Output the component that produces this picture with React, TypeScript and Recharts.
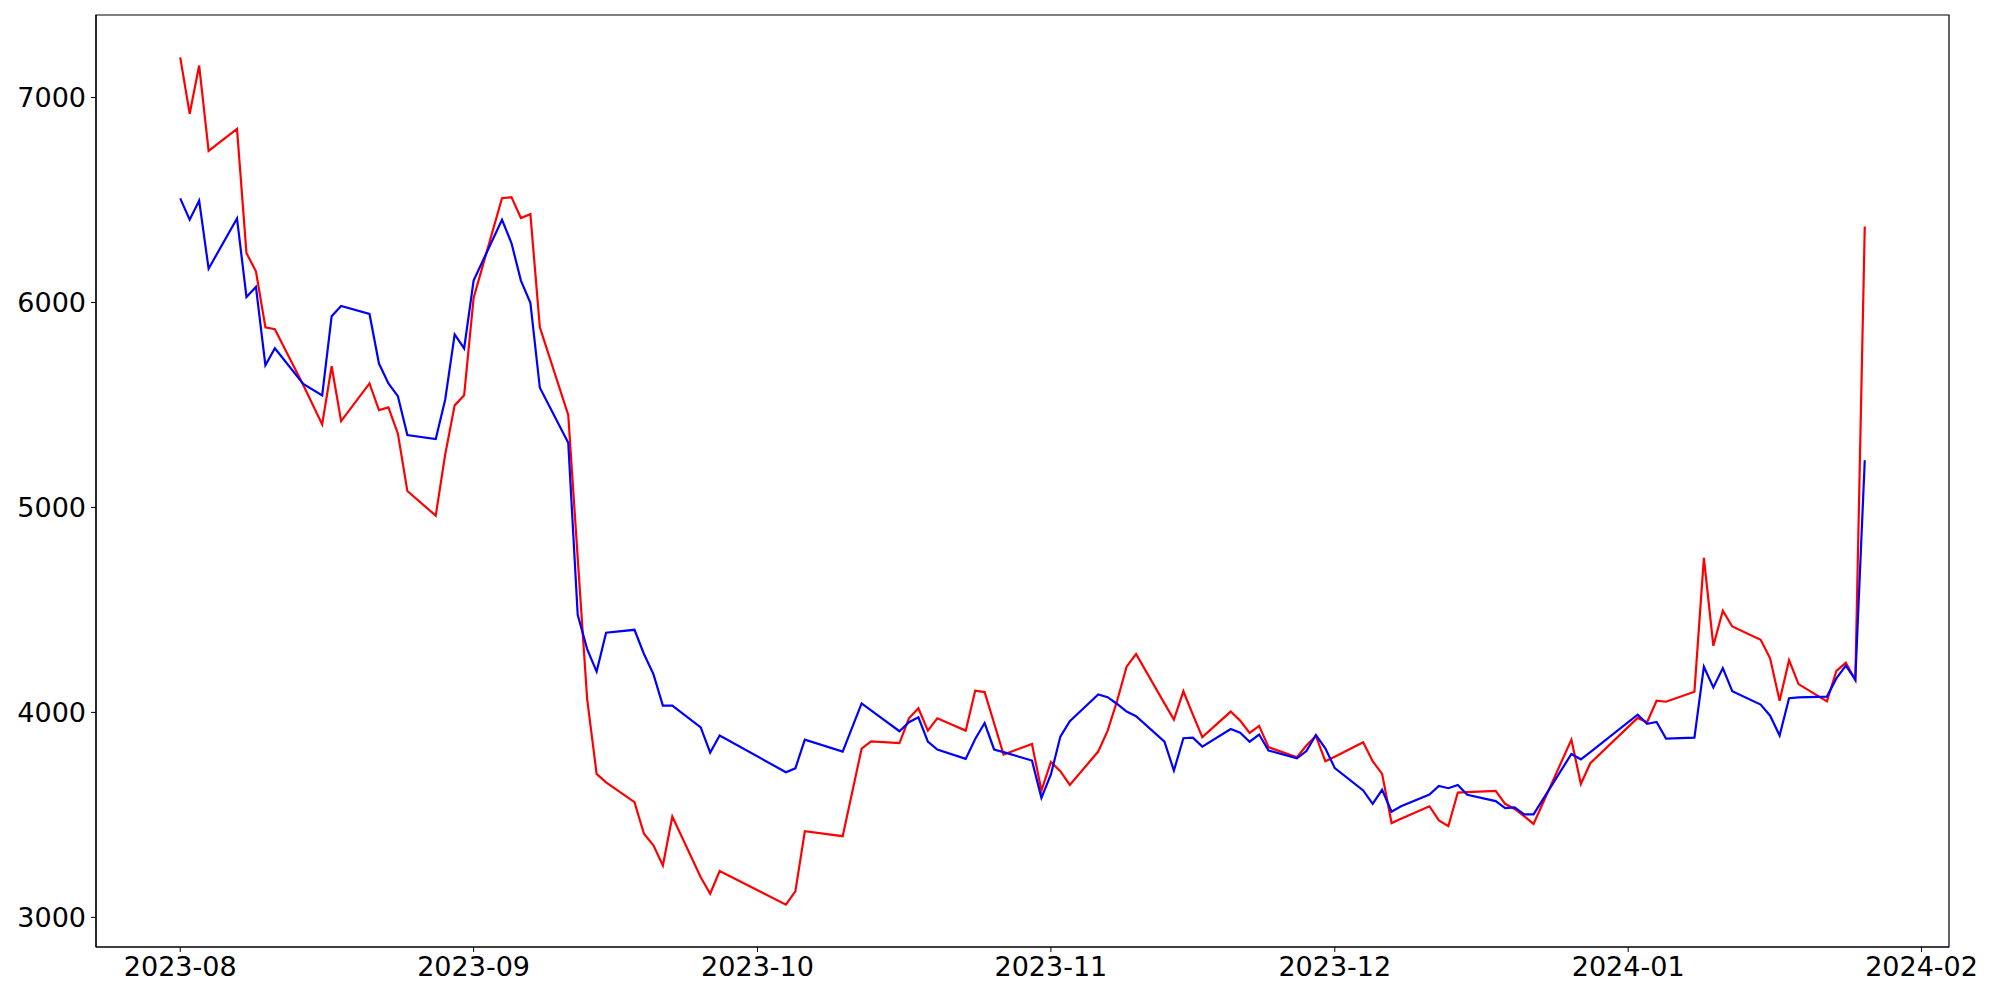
import React from "react";
import { LineChart, Line, XAxis, YAxis, ReferenceArea } from "recharts";

const dates: string[] = [
  "2023-08-01","2023-08-02","2023-08-03","2023-08-04","2023-08-07","2023-08-08","2023-08-09","2023-08-10","2023-08-11","2023-08-14","2023-08-16","2023-08-17","2023-08-18","2023-08-21","2023-08-22","2023-08-23","2023-08-24","2023-08-25","2023-08-28","2023-08-29","2023-08-30","2023-08-31",
  "2023-09-01","2023-09-04","2023-09-05","2023-09-06","2023-09-07","2023-09-08","2023-09-11","2023-09-12","2023-09-13","2023-09-14","2023-09-15","2023-09-18","2023-09-19","2023-09-20","2023-09-21","2023-09-22","2023-09-25","2023-09-26","2023-09-27",
  "2023-10-04","2023-10-05","2023-10-06","2023-10-10","2023-10-12","2023-10-13","2023-10-16","2023-10-17","2023-10-18","2023-10-19","2023-10-20","2023-10-23","2023-10-24","2023-10-25","2023-10-26","2023-10-27","2023-10-30","2023-10-31",
  "2023-11-01","2023-11-02","2023-11-03","2023-11-06","2023-11-07","2023-11-08","2023-11-09","2023-11-10","2023-11-13","2023-11-14","2023-11-15","2023-11-16","2023-11-17","2023-11-20","2023-11-21","2023-11-22","2023-11-23","2023-11-24","2023-11-27","2023-11-28","2023-11-29","2023-11-30",
  "2023-12-01","2023-12-04","2023-12-05","2023-12-06","2023-12-07","2023-12-08","2023-12-11","2023-12-12","2023-12-13","2023-12-14","2023-12-15","2023-12-18","2023-12-19","2023-12-20","2023-12-21","2023-12-22","2023-12-26","2023-12-27","2023-12-28",
  "2024-01-02","2024-01-03","2024-01-04","2024-01-05","2024-01-08","2024-01-09","2024-01-10","2024-01-11","2024-01-12","2024-01-15","2024-01-16","2024-01-17","2024-01-18","2024-01-19","2024-01-22","2024-01-23","2024-01-24","2024-01-25","2024-01-26",
];

const redSeries: number[] = [
  7196, 6921, 7156, 6740, 6847, 6241, 6152, 5879, 5870, 5597, 5405, 5689, 5421, 5605, 5475, 5488, 5360, 5080, 4960, 5259, 5498, 5547,
  6022, 6509, 6514, 6412, 6431, 5879, 5451, 4754, 4065, 3700, 3659, 3562, 3408, 3351, 3253, 3492, 3196, 3115, 3226,
  3062, 3127, 3420, 3396, 3823, 3858, 3850, 3971, 4020, 3911, 3971, 3911, 4106, 4099, 3947, 3794, 3846, 3619,
  3758, 3713, 3646, 3809, 3911, 4057, 4223, 4285, 4044, 3965, 4103, 3989, 3879, 4004, 3960, 3900, 3934, 3830, 3781, 3838, 3885, 3762,
  3784, 3854, 3762, 3700, 3460, 3481, 3542, 3473, 3445, 3609, 3611, 3617, 3554, 3529, 3494, 3456, 3867, 3651, 3752,
  3973, 3952, 4057, 4052, 4101, 4754, 4325, 4496, 4419, 4354, 4264, 4057, 4255, 4138, 4054, 4203, 4242, 4158, 6371,
];

const blueSeries: number[] = [
  6508, 6404, 6497, 6165, 6410, 6027, 6076, 5694, 5777, 5603, 5547, 5933, 5983, 5944, 5702, 5605, 5543, 5353, 5334, 5527, 5844, 5776,
  6107, 6404, 6290, 6107, 5998, 5584, 5316, 4476, 4309, 4199, 4389, 4403, 4285, 4187, 4033, 4033, 3927, 3804, 3887,
  3708, 3727, 3867, 3809, 4044, 4010, 3908, 3952, 3976, 3857, 3819, 3773, 3870, 3948, 3819, 3806, 3765, 3583,
  3697, 3882, 3957, 4087, 4074, 4041, 4004, 3981, 3857, 3716, 3874, 3877, 3833, 3919, 3901, 3857, 3892, 3814, 3776, 3811, 3890, 3825,
  3728, 3619, 3554, 3622, 3516, 3542, 3599, 3641, 3630, 3646, 3598, 3567, 3533, 3537, 3502, 3502, 3797, 3771, 3806,
  3989, 3944, 3953, 3872, 3877, 4223, 4122, 4216, 4103, 4038, 3984, 3887, 4069, 4073, 4077, 4166, 4228, 4160, 5230,
];

const xTickLabels: string[] = ["2023-08", "2023-09", "2023-10", "2023-11", "2023-12", "2024-01", "2024-02"];
const yTicks: number[] = [3000, 4000, 5000, 6000, 7000];

const toTs = (s: string) => {
  const [y, m, d] = s.split("-").map(Number);
  return Date.UTC(y, m - 1, d || 1);
};

const data = dates.map((d, i) => ({ t: toTs(d), red: redSeries[i], blue: blueSeries[i] }));

const tMin = data[0].t;
const tMax = data[data.length - 1].t;
const tPad = (tMax - tMin) * 0.05;
const xDomain: [number, number] = [tMin - tPad, tMax + tPad];

const allVals = [...redSeries, ...blueSeries];
const vMin = Math.min(...allVals);
const vMax = Math.max(...allVals);
const vPad = (vMax - vMin) * 0.05;
const yDomain: [number, number] = [vMin - vPad, vMax + vPad];

const xTicks = xTickLabels.map((s) => toTs(s));
const fmtX = (v: number) => {
  const d = new Date(v);
  return `${d.getUTCFullYear()}-${String(d.getUTCMonth() + 1).padStart(2, "0")}`;
};

const font = { fontFamily: "DejaVu Sans", fontSize: 27, fill: "#000" };

export default function App() {
  return (
    <div style={{ position: "absolute", left: 0, top: 0, width: 2000, height: 1000, background: "#fff" }}>
      <LineChart width={2000} height={1000} data={data} margin={{ top: 15, right: 51, bottom: 0, left: 0 }}>
        <XAxis
          dataKey="t"
          type="number"
          domain={xDomain}
          ticks={xTicks}
          tickFormatter={fmtX}
          allowDataOverflow
          height={53}
          tickSize={5}
          tickMargin={5}
          tick={font}
          stroke="#000"
          axisLine={{ stroke: "#000", strokeWidth: 1.2 }}
          tickLine={{ stroke: "#000", strokeWidth: 1 }}
        />
        <YAxis
          type="number"
          domain={yDomain}
          ticks={yTicks}
          allowDataOverflow
          width={96}
          tickSize={5}
          tickMargin={5}
          tick={font}
          stroke="#000"
          axisLine={{ stroke: "#000", strokeWidth: 1.2 }}
          tickLine={{ stroke: "#000", strokeWidth: 1 }}
        />
        <ReferenceArea
          x1={xDomain[0]}
          x2={xDomain[1]}
          y1={yDomain[0]}
          y2={yDomain[1]}
          fill="none"
          fillOpacity={0}
          stroke="#000"
          strokeWidth={1.2}
          ifOverflow="visible"
        />
        <Line type="linear" dataKey="red" stroke="#ff0000" strokeWidth={2.2} dot={false} isAnimationActive={false} />
        <Line type="linear" dataKey="blue" stroke="#0000ff" strokeWidth={2.2} dot={false} isAnimationActive={false} />
      </LineChart>
    </div>
  );
}
